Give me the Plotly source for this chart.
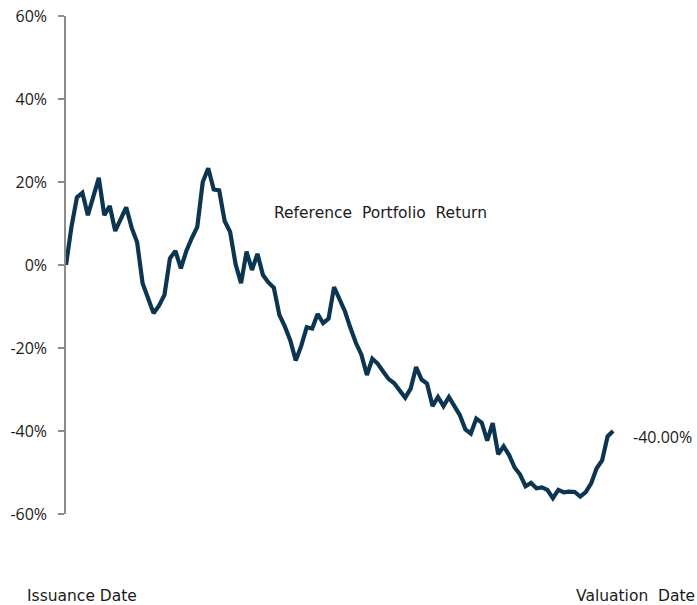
import plotly.graph_objects as go

period = list(range(101))
portfolio_return = [
    0, 9.2, 16.3, 17.4, 12, 16.5, 21, 12, 14.2, 8.2,
    10.8, 13.9, 9, 5.5, -4.4, -7.8, -11.6, -9.8, -7.2, 1.6,
    3.4, -0.8, 3.4, 6.5, 9.2, 20, 23.3, 18.2, 18, 10.6,
    8, 0.2, -4.4, 3.2, -1.2, 2.7, -2.4, -4.2, -5.5, -12,
    -14.8, -18.2, -23, -19.5, -15, -15.3, -11.8, -14, -12.9, -5.3,
    -8, -11.2, -15.2, -18.8, -21.6, -26.5, -22.6, -23.8, -25.7, -27.5,
    -28.5, -30.2, -32, -29.8, -24.6, -27.6, -28.6, -34, -31.8, -34,
    -31.8, -34, -36.2, -39.6, -40.6, -37, -38, -42.3, -38.1, -45.6,
    -43.7, -45.8, -48.8, -50.5, -53.3, -52.5, -53.8, -53.6, -54.2, -56.2,
    -54.2, -54.8, -54.6, -54.7, -55.8, -54.7, -52.6, -49, -47.1, -41.3,
    -40,
]
y_ticks = [-60, -40, -20, 0, 20, 40, 60]
y_tick_labels = ["-60%", "-40%", "-20%", "0%", "20%", "40%", "60%"]
series_name = "Reference  Portfolio  Return"
end_label = "-40.00%"
start_label = "Issuance Date"
end_date_label = "Valuation  Date"

W, H = 697, 605
ML, MR, MT, MB = 66, 73, 16, 91
PW, PH = W - ML - MR, H - MT - MB

fig = go.Figure()
fig.add_trace(go.Scatter(
    x=period, y=portfolio_return, mode="lines",
    line=dict(color="#0b3550", width=4.2), hoverinfo="skip", showlegend=False,
))

font_ann = dict(family="DejaVu Sans, sans-serif", size=15.5, color="#1a1a1a")
fig.update_layout(
    width=W, height=H,
    margin=dict(l=ML, r=MR, t=MT, b=MB, autoexpand=False),
    plot_bgcolor="white", paper_bgcolor="white",
    xaxis=dict(range=[0, 102], showgrid=False, zeroline=False,
               showline=False, showticklabels=False, ticks=""),
    yaxis=dict(range=[-60, 60], tickvals=y_ticks, ticktext=y_tick_labels,
               showgrid=False, zeroline=False, showline=True, automargin=False,
               linecolor="#8c8c8c", linewidth=1.5, ticks="outside",
               ticklen=6, tickcolor="#8c8c8c", tickwidth=1.5, ticklabelstandoff=8,
               tickfont=dict(family="Open Sans, sans-serif", size=16, color="#1a1a1a")),
)

def px(pix):
    return (pix - ML) / PW

def py(pix):
    return (H - MB - pix) / PH

fig.add_annotation(x=px(380), y=py(213), xref="paper", yref="paper",
                   text=series_name, showarrow=False, xanchor="center", yanchor="middle",
                   font=font_ann)
fig.add_annotation(x=px(631), y=py(437), xref="paper", yref="paper",
                   text=end_label, showarrow=False, xanchor="left", yanchor="middle",
                   font=dict(family="Open Sans, sans-serif", size=16, color="#1a1a1a"))
fig.add_annotation(x=px(25), y=py(596), xref="paper", yref="paper",
                   text=start_label, showarrow=False, xanchor="left", yanchor="middle",
                   font=font_ann)
fig.add_annotation(x=px(697), y=py(596), xref="paper", yref="paper",
                   text=end_date_label, showarrow=False, xanchor="right", yanchor="middle",
                   font=font_ann)

fig.write_html("out.html", config={"displayModeBar": False},
               post_script="document.body.style.margin='0';document.body.style.overflow='hidden';")
